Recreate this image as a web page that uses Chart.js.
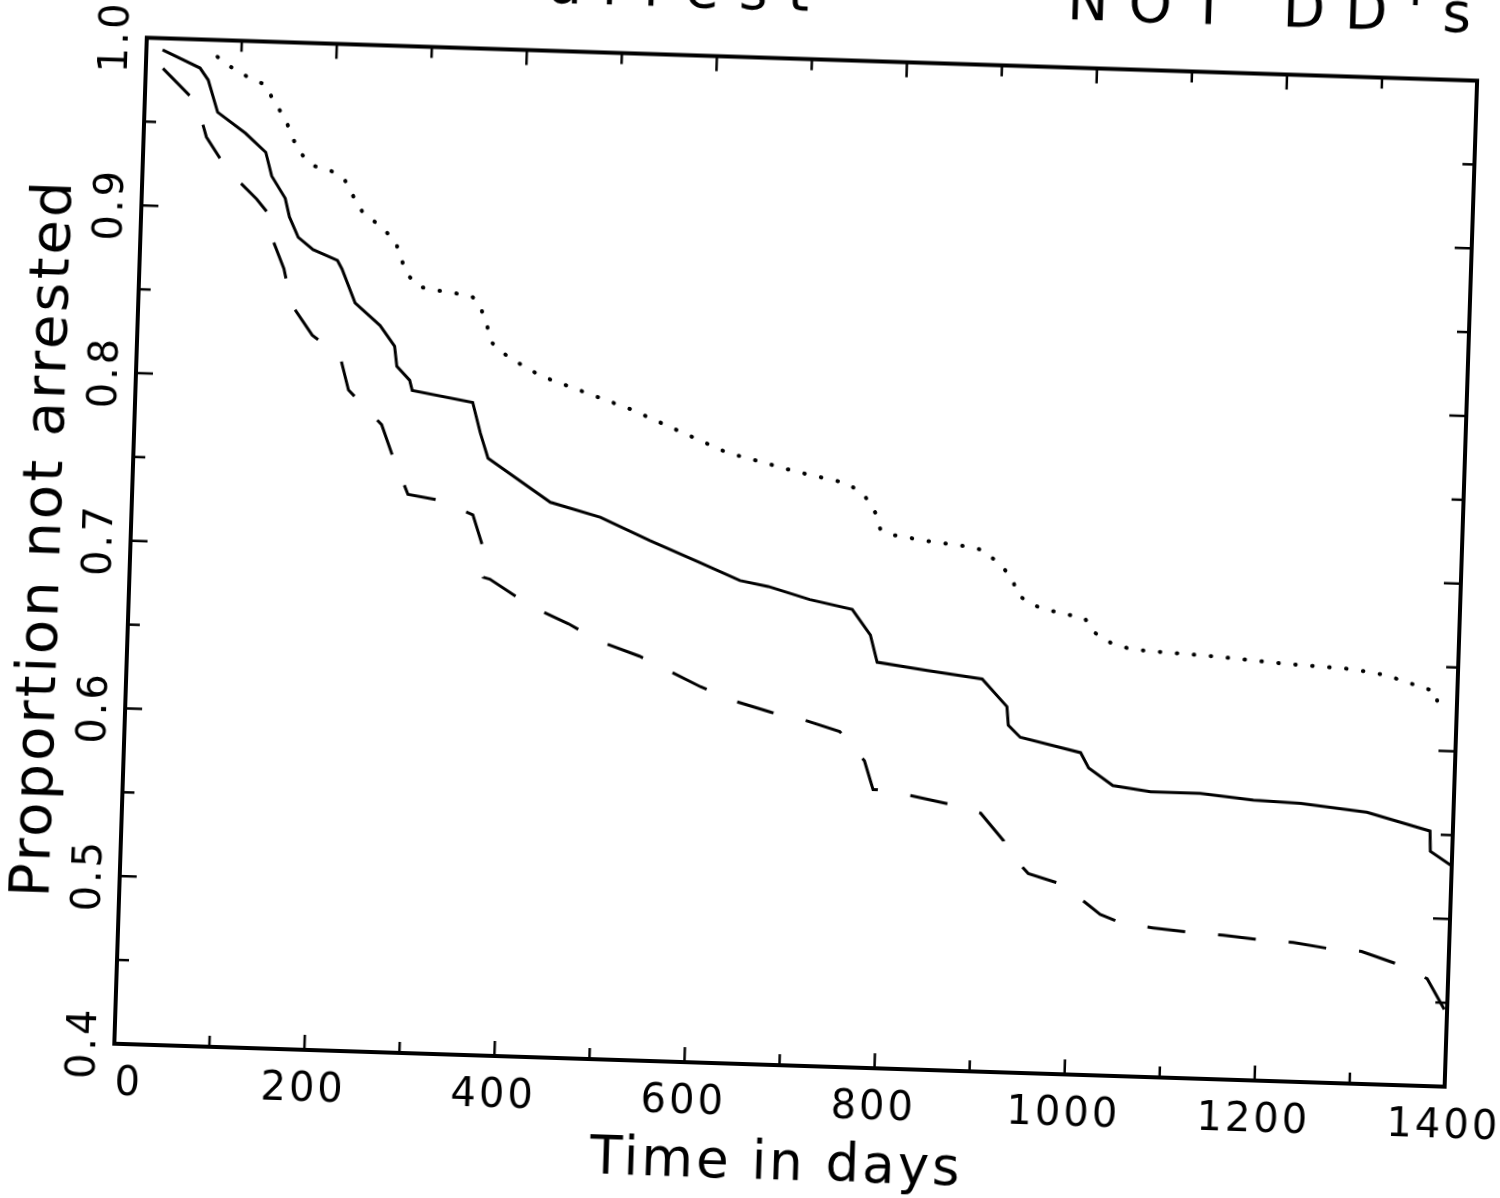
<!DOCTYPE html>
<html>
<head>
<meta charset="utf-8">
<title>Proportion not arrested</title>
<script src="https://cdn.jsdelivr.net/npm/chart.js@4.4.1/dist/chart.umd.min.js"></script>
<style>
  html, body { margin: 0; padding: 0; background: #fff; overflow: hidden; }
  #wrap { position: relative; width: 1500px; height: 1198px; overflow: hidden; }
  /* the scan is turned a little clockwise, so the whole canvas is too */
  #km-graph { position: absolute; left: 0; top: -60px; transform: rotate(1.85deg); transform-origin: 750px 659px; }
</style>
</head>
<body>
<div id="wrap"><canvas id="km-graph" width="1560" height="1258"></canvas></div>
<script>
// --< Data >--
const xMin = 0, xMax = 1400, xLabelStep = 200, xMinorStep = 100;
const yMin = 0.4, yMax = 1.0, yLabelStep = 0.1, yMinorStep = 0.05;

const solidDays = [17, 57, 66, 77, 107, 129, 136, 151, 156, 166, 182, 208, 213, 228, 255, 271, 274, 288, 291, 355,
  364, 373, 440, 493, 546, 599, 642, 672, 716, 761, 781, 789, 842, 900, 927, 929, 942, 1006, 1015, 1041,
  1081, 1105, 1133, 1189, 1239, 1309, 1376, 1377, 1399];
const solidProp = [0.993, 0.983, 0.976, 0.957, 0.945, 0.934, 0.920, 0.907, 0.896, 0.884, 0.877, 0.871, 0.866, 0.846, 0.833, 0.821, 0.809, 0.801, 0.795, 0.789,
  0.771, 0.756, 0.731, 0.723, 0.710, 0.698, 0.688, 0.685, 0.678, 0.673, 0.658, 0.642, 0.638, 0.634, 0.618, 0.607, 0.600, 0.592, 0.583, 0.573,
  0.570, 0.570, 0.570, 0.567, 0.566, 0.562, 0.552, 0.540, 0.532];

const dashedDays = [18, 55, 66, 89, 121, 136, 137, 152, 161, 184, 214, 224, 260, 273, 290, 324, 359, 370, 372, 379,
  422, 463, 497, 539, 604, 641, 680, 715, 752, 779, 789, 794, 830, 868, 903, 928, 929, 955, 992, 1032,
  1056, 1088, 1128, 1162, 1200, 1236, 1274, 1308, 1347, 1378, 1397];
const dashedProp = [0.982, 0.962, 0.942, 0.923, 0.906, 0.896, 0.885, 0.865, 0.844, 0.826, 0.814, 0.794, 0.774, 0.755, 0.733, 0.730, 0.722, 0.704, 0.685, 0.684,
  0.669, 0.659, 0.649, 0.641, 0.624, 0.616, 0.610, 0.606, 0.600, 0.583, 0.566, 0.566, 0.563, 0.559, 0.554, 0.538, 0.534, 0.519, 0.513, 0.496,
  0.491, 0.489, 0.487, 0.486, 0.484, 0.483, 0.480, 0.479, 0.472, 0.464, 0.446];

const dottedDays = [75, 90, 106, 127, 136, 148, 156, 164, 179, 199, 213, 223, 233, 250, 268, 275, 282, 294, 313, 330,
  351, 360, 368, 373, 388, 406, 426, 521, 624, 661, 697, 733, 751, 769, 782, 788, 802, 840, 875, 895,
  912, 928, 934, 951, 970, 1006, 1016, 1034, 1053, 1070, 1142, 1215, 1289, 1325, 1342, 1360, 1378, 1380];
const dottedProp = [0.990, 0.984, 0.979, 0.974, 0.964, 0.955, 0.944, 0.935, 0.927, 0.924, 0.919, 0.909, 0.900, 0.893, 0.884, 0.873, 0.864, 0.857, 0.855, 0.854,
  0.852, 0.846, 0.834, 0.825, 0.818, 0.812, 0.806, 0.788, 0.764, 0.759, 0.754, 0.750, 0.748, 0.742, 0.731, 0.721, 0.718, 0.715, 0.713, 0.711,
  0.704, 0.695, 0.685, 0.679, 0.676, 0.672, 0.664, 0.658, 0.655, 0.654, 0.652, 0.649, 0.647, 0.644, 0.641, 0.638, 0.635, 0.625];

const titleLeft = "arrest";
const titleRight = "NOT DD's";
const xTitle = "Time in days";
const yTitle = "Proportion not arrested";
// --</ Data >--

const family = "'DejaVu Sans', sans-serif";
const toPoints = (xs, ys) => xs.map((v, i) => ({ x: v, y: ys[i] }));

// wider letters, like the plotter font
const spacing = {
  id: 'spacing',
  beforeUpdate(chart) { chart.ctx.letterSpacing = '3px'; },
  beforeDraw(chart) { chart.ctx.letterSpacing = '3px'; }
};

// --< Frame + inward ticks >--
const frameTicks = {
  id: 'frameTicks',
  afterDraw(chart) {
    const { ctx, chartArea: a, scales: { x, y } } = chart;
    const seg = (x1, y1, x2, y2) => { ctx.beginPath(); ctx.moveTo(x1, y1); ctx.lineTo(x2, y2); ctx.stroke(); };
    ctx.save();
    ctx.strokeStyle = '#000';
    ctx.lineWidth = 2.5;
    for (let d = xMin + xMinorStep; d < xMax; d += xMinorStep) {
      const px = x.getPixelForValue(d);
      const len = d % xLabelStep === 0 ? 15 : 11;
      seg(px, a.bottom, px, a.bottom - len);
      seg(px, a.top, px, a.top + len);
    }
    const n = Math.round((yMax - yMin) / yMinorStep);
    for (let k = 1; k < n; k++) {
      const py = y.getPixelForValue(yMin + k * yMinorStep);
      const len = k % 2 === 0 ? 17 : 12;
      seg(a.left, py, a.left + len, py);
      seg(a.right, py, a.right - len, py);
    }
    ctx.lineWidth = 4;
    ctx.strokeRect(a.left, a.top, a.right - a.left, a.bottom - a.top);
    ctx.restore();
  }
};

// --< Top title (cut off by the scan) >--
const topTitle = {
  id: 'topTitle',
  afterDraw(chart) {
    const { ctx, chartArea: a } = chart;
    ctx.save();
    ctx.font = `55px ${family}`;
    ctx.letterSpacing = '20px';
    ctx.fillStyle = '#000';
    ctx.textAlign = 'left';
    ctx.textBaseline = 'alphabetic';
    ctx.fillText(titleLeft, a.left + 400, a.top - 49);
    ctx.fillText(titleRight, a.left + 919, a.top - 49);
    ctx.restore();
  }
};

new Chart(document.getElementById('km-graph'), {
  type: 'line',
  data: {
    datasets: [
      { label: 'solid', data: toPoints(solidDays, solidProp), borderColor: '#000', borderWidth: 3, pointRadius: 0, tension: 0, fill: false },
      { label: 'dashed', data: toPoints(dashedDays, dashedProp), borderColor: '#000', borderWidth: 3, borderDash: [38, 33], pointRadius: 0, tension: 0, fill: false },
      { label: 'dotted', data: toPoints(dottedDays, dottedProp), borderColor: '#000', borderWidth: 4, borderDash: [0.5, 16.5], borderCapStyle: 'round', pointRadius: 0, tension: 0, fill: false }
    ]
  },
  options: {
    responsive: false,
    animation: false,
    devicePixelRatio: 1,
    layout: { padding: { top: 117.5, right: 100, left: 0, bottom: 0 } },
    plugins: { legend: { display: false }, tooltip: { enabled: false } },
    scales: {
      x: {
        type: 'linear', min: xMin, max: xMax,
        grid: { display: false, drawTicks: false },
        border: { display: false },
        ticks: {
          stepSize: xLabelStep, color: '#000', padding: 17, maxRotation: 0, autoSkip: false,
          font: { family, size: 40 },
          callback: v => v === 0 ? '  0' : String(v)
        },
        title: { display: true, text: xTitle, color: '#000', font: { family, size: 53 }, padding: { top: 0, bottom: 2 } },
        afterFit: s => { s.height = 134; s.paddingLeft = 0; s.paddingRight = 0; }
      },
      y: {
        type: 'linear', min: yMin, max: yMax,
        grid: { display: false, drawTicks: false },
        border: { display: false },
        ticks: {
          stepSize: yLabelStep, color: '#000', padding: -7, minRotation: 90, maxRotation: 90, crossAlign: 'center', autoSkip: false,
          font: { family, size: 40 },
          callback: v => Number(v).toFixed(1)
        },
        title: { display: true, text: yTitle, color: '#000', font: { family, size: 56 }, padding: { top: 10, bottom: 0 } },
        afterFit: s => { s.width = 129; s.paddingTop = 0; s.paddingBottom = 0; }
      }
    }
  },
  plugins: [spacing, frameTicks, topTitle]
});
</script>
</body>
</html>
